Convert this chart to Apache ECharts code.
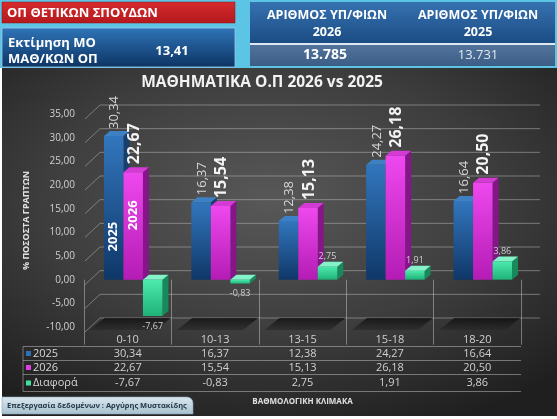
<!DOCTYPE html>
<html>
<head>
<meta charset="utf-8">
<script src="https://cdn.jsdelivr.net/npm/echarts@6/dist/echarts.min.js"></script>
<style>
  html, body { margin: 0; padding: 0; background: #fff; }
  #wrap { position: relative; width: 557px; height: 419px; overflow: hidden; }
  #top { position: absolute; left: 0; top: 0; width: 557px; height: 68px; background: #5cc4e4; }
  #dark {
    position: absolute; left: 2px; top: 68px; width: 555px; height: 348px;
    background: radial-gradient(ellipse 75% 70% at 48% 38%, #585858 0%, #3d3d3d 55%, #1f1f1f 100%);
  }
  #chart { position: absolute; left: 0; top: 0; width: 557px; height: 419px; }
</style>
</head>
<body>
<div id="wrap">
  <div id="top"></div>
  <div id="dark"></div>
  <div id="chart"></div>
</div>
<script>
  // data
  const categories = ['0-10', '10-13', '13-15', '15-18', '18-20']
  const values2025 = [30.34, 16.37, 12.38, 24.27, 16.64]
  const values2026 = [22.67, 15.54, 15.13, 26.18, 20.50]
  const valuesDiff = [-7.67, -0.83, 2.75, 1.91, 3.86]
  const yTicks = [-10, -5, 0, 5, 10, 15, 20, 25, 30, 35]
  const rowNames = ['2025', '2026', 'Διαφορά']
  const estimate = '13,41'
  const candidates2026 = '13.785'
  const candidates2025 = '13.731'

  const FONT = 'Open Sans'
  const fmt = v => v.toFixed(2).replace('.', ',')

  const BAR_W = 19.5
  const DX = 6
  const DY = -5
  const palettes = [
    {front: ['#3276bd', '#0f3768'], side: '#183f6e', top: '#3e80c4', legend: '#2f6fb4'},
    {front: ['#ee48ee', '#b41cb4'], side: '#87158a', top: '#d43ad4', legend: '#e040e0'},
    {front: ['#4deaad', '#1fb278'], side: '#168a5b', top: '#84f3c9', legend: '#3ee0a0'}
  ]

  function txt (x, y, text, o) {
    return {
      type: 'text', x: x, y: y, rotation: o.rot || 0,
      style: {
        text: text, fill: o.color || '#fff', fontSize: o.size || 11,
        fontWeight: o.weight || 'normal', fontFamily: o.font || FONT,
        align: o.align || 'center', verticalAlign: 'middle'
      }
    }
  }

  function labels2025 (ch, x0, yTop, yBot, v, i) {
    ch.push(txt(x0 + BAR_W / 2 + 1, yTop - 7, fmt(v), {rot: Math.PI / 2, align: 'left', size: 13, color: '#d6d6d6'}))
    if (i === 0) ch.push(txt(x0 + BAR_W / 2, yBot - 0.3 * (yBot - yTop), '2025', {rot: Math.PI / 2, size: 13, weight: 'bold'}))
  }
  function labels2026 (ch, x0, yTop, yBot, v, i) {
    ch.push(txt(x0 + BAR_W / 2 + 1, yTop - 8, fmt(v), {rot: Math.PI / 2, align: 'left', size: 16, weight: 'bold', color: '#f4f4f4'}))
    if (i === 0) ch.push(txt(x0 + BAR_W / 2, yBot - 0.6 * (yBot - yTop), '2026', {rot: Math.PI / 2, size: 13, weight: 'bold'}))
  }
  function labelsDiff (ch, x0, yTop, yBot, v) {
    const y = v >= 0 ? yTop - 10 : yBot + 10
    ch.push(txt(x0 + BAR_W / 2, y, fmt(v), {size: 9, color: '#d0d0d0'}))
  }

  function barSeries (name, data, idx, labelFn) {
    return {
      type: 'custom',
      name: name,
      z: 4 + idx,
      data: data.map((v, i) => [i, v]),
      encode: {x: 0, y: 1},
      renderItem (params, api) {
        const i = api.value(0)
        const v = api.value(1)
        const c = api.coord([i, 0])
        const t = api.coord([i, v])
        const x0 = c[0] + 5.5 - 1.5 * BAR_W + idx * BAR_W
        const yTop = Math.min(c[1], t[1])
        const yBot = Math.max(c[1], t[1])
        const p = palettes[idx]
        const ch = [
          {type: 'polygon', shape: {points: [[x0 + BAR_W, yTop], [x0 + BAR_W + DX, yTop + DY], [x0 + BAR_W + DX, yBot + DY], [x0 + BAR_W, yBot]]}, style: {fill: p.side}},
          {type: 'polygon', shape: {points: [[x0, yTop], [x0 + DX, yTop + DY], [x0 + BAR_W + DX, yTop + DY], [x0 + BAR_W, yTop]]}, style: {fill: p.top}},
          {type: 'rect', shape: {x: x0, y: yTop, width: BAR_W, height: yBot - yTop},
            style: {fill: new echarts.graphic.LinearGradient(0, 0, 0, 1, [{offset: 0, color: p.front[0]}, {offset: 1, color: p.front[1]}])}}
        ]
        labelFn(ch, x0, yTop, yBot, v, i)
        return {type: 'group', children: ch}
      }
    }
  }

  const chart = echarts.init(document.getElementById('chart'))
  chart.setOption({
    backgroundColor: 'transparent',
    animation: false,
    grid: {left: 84, right: 36, top: 114, bottom: 92},
    xAxis: {
      type: 'category',
      data: categories,
      name: 'ΒΑΘΜΟΛΟΓΙΚΗ ΚΛΙΜΑΚΑ',
      nameLocation: 'middle',
      nameGap: 71,
      nameTextStyle: {color: '#e0e0e0', fontSize: 8, fontWeight: 'bold', fontFamily: FONT},
      axisLine: {show: false},
      axisTick: {show: true, length: 65, interval: 0, lineStyle: {color: 'rgba(215,215,215,0.45)'}},
      axisLabel: {color: '#d0d0d0', fontSize: 11, fontFamily: FONT, margin: 7, interval: 0},
      splitLine: {show: false}
    },
    yAxis: {
      type: 'value',
      min: -10,
      max: 35,
      interval: 5,
      name: '% ΠΟΣΟΣΤΑ ΓΡΑΠΤΩΝ',
      nameLocation: 'middle',
      nameGap: 53,
      nameTextStyle: {color: '#e0e0e0', fontSize: 9, fontWeight: 'bold', fontFamily: FONT},
      axisLine: {show: false},
      axisTick: {show: false},
      splitLine: {show: false},
      axisLabel: {color: '#d0d0d0', fontSize: 10, fontFamily: FONT, margin: 9, padding: [9, 0, 0, 0], formatter: v => fmt(v)}
    },
    graphic: {
      elements: [
        // left header
        {type: 'rect', shape: {x: 2, y: 2, width: 233, height: 21},
          style: {fill: new echarts.graphic.LinearGradient(0, 0, 0, 1, [{offset: 0, color: '#d62b2e'}, {offset: 1, color: '#b3191d'}]), stroke: '#8e1014', lineWidth: 0.5}},
        txt(7, 13, 'ΟΠ ΘΕΤΙΚΩΝ ΣΠΟΥΔΩΝ', {align: 'left', size: 13, weight: 'bold'}),
        {type: 'rect', shape: {x: 2, y: 28, width: 233, height: 39},
          style: {fill: new echarts.graphic.LinearGradient(0, 0, 0, 1, [{offset: 0, color: '#2f74b8'}, {offset: 1, color: '#0d3464'}]), stroke: '#9cc6e6', lineWidth: 0.8}},
        txt(8, 43, 'Εκτίμηση ΜΟ', {align: 'left', size: 13, weight: 'bold'}),
        txt(8, 59, 'ΜΑΘ/ΚΩΝ ΟΠ', {align: 'left', size: 13, weight: 'bold'}),
        txt(172, 51, estimate, {size: 13, weight: 'bold'}),
        // right header
        {type: 'rect', shape: {x: 250, y: 2, width: 305, height: 41},
          style: {fill: new echarts.graphic.LinearGradient(0, 0, 0, 1, [{offset: 0, color: '#3672b0'}, {offset: 1, color: '#1b4c84'}])}},
        {type: 'rect', shape: {x: 250, y: 43, width: 305, height: 2}, style: {fill: '#dfe9f2'}},
        {type: 'rect', shape: {x: 250, y: 45, width: 305, height: 21},
          style: {fill: new echarts.graphic.LinearGradient(0, 0, 0, 1, [{offset: 0, color: '#52749c'}, {offset: 1, color: '#3c5d86'}])}},
        txt(327, 15, 'ΑΡΙΘΜΟΣ ΥΠ/ΦΙΩΝ', {size: 12.5, weight: 'bold'}),
        txt(327, 32, '2026', {size: 12.5, weight: 'bold'}),
        txt(478, 15, 'ΑΡΙΘΜΟΣ ΥΠ/ΦΙΩΝ', {size: 12.5, weight: 'bold'}),
        txt(478, 32, '2025', {size: 12.5, weight: 'bold'}),
        txt(325, 55, candidates2026, {size: 14, weight: 'bold'}),
        txt(478, 55, candidates2025, {size: 13, color: '#e2e8f0'}),
        // title
        txt(262, 83, 'ΜΑΘΗΜΑΤΙΚΑ Ο.Π 2026 vs 2025', {size: 15.5, weight: 'bold', color: '#f2f2f2'}),
        // footer
        {type: 'rect', shape: {x: 2, y: 397, width: 191, height: 17, r: [0, 6, 0, 0]},
          style: {fill: new echarts.graphic.LinearGradient(0, 0, 0, 1, [{offset: 0, color: '#dbe9f0'}, {offset: 1, color: '#a6c0ce'}]), stroke: '#8aa6b6', lineWidth: 0.6}},
        txt(7, 406, 'Επεξεργασία δεδομένων : Αργύρης Μυστακίδης', {align: 'left', size: 7.5, weight: 'bold', color: '#243646'})
      ]
    },
    series: [
      // back wall gridlines with 3D offset
      {
        type: 'custom',
        z: 1,
        silent: true,
        data: yTicks.map(v => [0, v]),
        encode: {x: 0, y: 1},
        renderItem (params, api) {
          const y = api.coord([0, api.value(1)])[1]
          const cs = params.coordSys
          return {
            type: 'polyline',
            shape: {points: [[cs.x + 1, y + 5], [cs.x + 16, y - 9], [cs.x + cs.width + 19, y - 9]]},
            style: {stroke: 'rgba(190,190,190,0.5)', lineWidth: 1, fill: null}
          }
        }
      },
      // floor shadows
      {
        type: 'custom',
        z: 2,
        silent: true,
        data: categories.map((c, i) => [i, -10]),
        encode: {x: 0, y: 1},
        renderItem (params, api) {
          const p = api.coord([api.value(0), api.value(1)])
          return {
            type: 'polygon',
            shape: {points: [[p[0] - 23, p[1] - 9], [p[0] + 43, p[1] - 9], [p[0] + 28, p[1] + 3], [p[0] - 38, p[1] + 3]]},
            style: {fill: new echarts.graphic.LinearGradient(0, 0, 0, 1, [{offset: 0, color: 'rgba(12,12,12,0.75)'}, {offset: 1, color: 'rgba(40,40,40,0.6)'}])}
          }
        }
      },
      barSeries('2025', values2025, 0, labels2025),
      barSeries('2026', values2026, 1, labels2026),
      barSeries('Διαφορά', valuesDiff, 2, labelsDiff),
      // data table under the axis
      {
        type: 'custom',
        z: 3,
        silent: true,
        data: categories.map((c, i) => [i, values2025[i], values2026[i], valuesDiff[i]]),
        encode: {x: 0, y: 1},
        renderItem (params, api) {
          const cs = params.coordSys
          const i = api.value(0)
          const cx = api.coord([i, 0])[0]
          const w = api.size([1, 0])[0]
          const base = cs.y + cs.height
          const rowY = [base + 26.5, base + 40.5, base + 56]
          const lineY = [base + 19.5, base + 33.5, base + 47.5, base + 64.5]
          const lineStyle = {stroke: 'rgba(215,215,215,0.45)', lineWidth: 1}
          const ch = []
          const vals = [api.value(1), api.value(2), api.value(3)]
          vals.forEach((v, r) => ch.push(txt(cx, rowY[r], fmt(v), {size: 11, color: '#d0d0d0'})))
          lineY.forEach(y => ch.push({type: 'line', shape: {x1: cx - w / 2, y1: y, x2: cx + w / 2, y2: y}, style: lineStyle}))
          if (i === 0) {
            const lx = cs.x - 61
            lineY.forEach(y => ch.push({type: 'line', shape: {x1: lx, y1: y, x2: cx - w / 2, y2: y}, style: lineStyle}))
            ch.push({type: 'line', shape: {x1: lx, y1: lineY[0], x2: lx, y2: lineY[3]}, style: lineStyle})
            rowNames.forEach((n, r) => {
              ch.push({type: 'rect', shape: {x: lx + 3, y: rowY[r] - 2.5, width: 5, height: 5}, style: {fill: palettes[r].legend}})
              ch.push(txt(lx + 10, rowY[r], n, {align: 'left', size: 11, color: '#d8d8d8'}))
            })
          }
          return {type: 'group', children: ch}
        }
      }
    ]
  })
</script>
</body>
</html>
